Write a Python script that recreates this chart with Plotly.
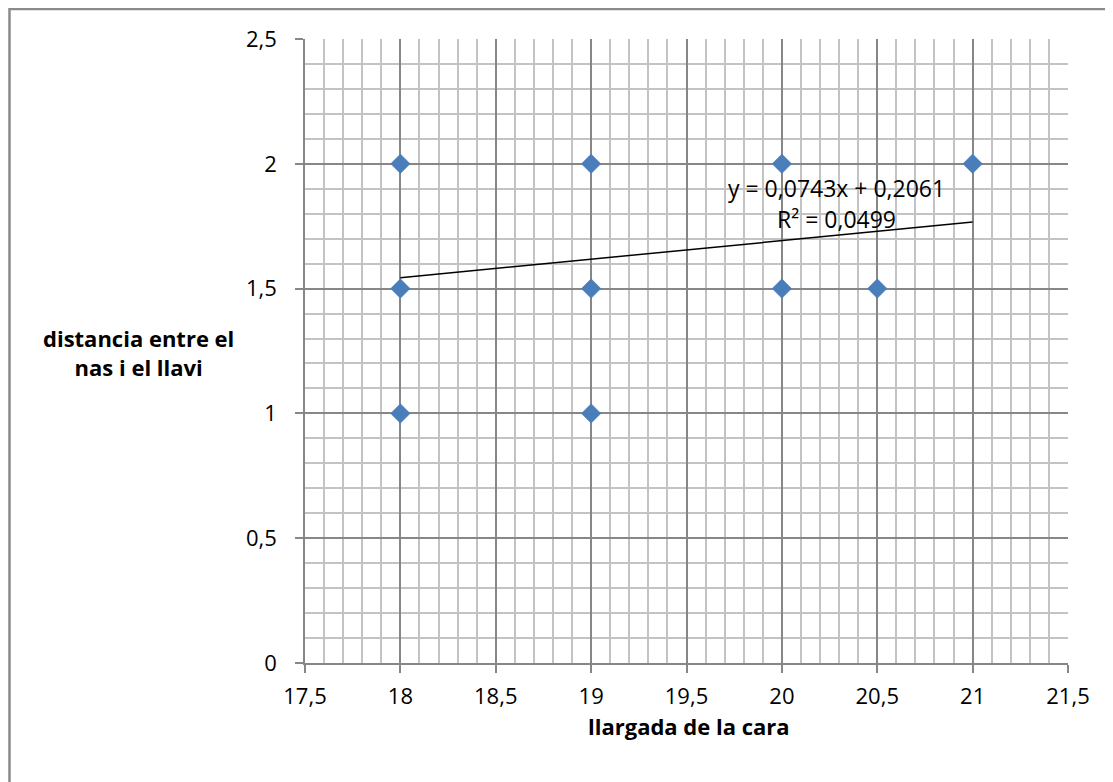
import plotly.graph_objects as go

# ---- data ----
x_vals = [18, 18, 18, 19, 19, 19, 20, 20, 20.5, 21]
y_vals = [2, 1.5, 1, 2, 1.5, 1, 2, 1.5, 1.5, 2]
trend_slope = 0.0743
trend_intercept = 0.2061
r_squared = 0.0499
x_tickvals = [17.5, 18, 18.5, 19, 19.5, 20, 20.5, 21, 21.5]
x_ticktext = ["17,5", "18", "18,5", "19", "19,5", "20", "20,5", "21", "21,5"]
y_tickvals = [0, 0.5, 1, 1.5, 2, 2.5]
y_ticktext = ["0", "0,5", "1", "1,5", "2", "2,5"]
x_title = "llargada de la cara"
y_title = "distancia entre el<br>nas i el llavi"

FONT = "Open Sans"
MAJOR = "#878787"
MINOR = "#c3c3c3"

fig = go.Figure()

fig.add_trace(go.Scatter(
    x=x_vals, y=y_vals, mode="markers",
    marker=dict(symbol="diamond", size=15, color="#4a7ebb",
                line=dict(width=0.5, color="#4a7ebb")),
    showlegend=False, hoverinfo="x+y",
))

tx = [min(x_vals), max(x_vals)]
ty = [trend_slope * v + trend_intercept for v in tx]
fig.add_trace(go.Scatter(
    x=tx, y=ty, mode="lines",
    line=dict(color="black", width=1.5),
    showlegend=False, hoverinfo="skip",
))

def fmt(v):
    return f"{v:.4f}".replace(".", ",")

fig.add_annotation(x=20.284, y=1.905, xref="x", yref="y",
                   xanchor="center", yanchor="middle",
                   text=f"y = {fmt(trend_slope)}x + {fmt(trend_intercept)}",
                   showarrow=False, font=dict(family=FONT, size=23, color="black"))
fig.add_annotation(x=20.284, y=1.779, xref="x", yref="y",
                   xanchor="center", yanchor="middle",
                   text=f"R² = {fmt(r_squared)}",
                   showarrow=False, font=dict(family=FONT, size=23, color="black"))

fig.add_annotation(x=0.503, y=-0.101, xref="paper", yref="paper",
                   xanchor="center", yanchor="middle",
                   text=f"<b>{x_title}</b>", showarrow=False,
                   font=dict(family=FONT, size=22, color="black"))
fig.add_annotation(x=-0.2176, y=0.497, xref="paper", yref="paper",
                   xanchor="center", yanchor="middle",
                   text=f"<b>{y_title}</b>", showarrow=False, align="center",
                   font=dict(family=FONT, size=22, color="black"))

# outer chart border
fig.add_shape(type="rect", xref="paper", yref="paper",
              x0=-0.3873, y0=-0.25, x1=1.08, y1=1.048,
              line=dict(color="#8a8a8a", width=2.5), fillcolor="rgba(0,0,0,0)",
              layer="below")

fig.update_layout(
    width=1113, height=782,
    margin=dict(l=297, r=53, t=31, b=127),
    paper_bgcolor="white", plot_bgcolor="white",
    font=dict(family=FONT, size=23, color="black"),
    showlegend=False,
)

fig.update_xaxes(
    range=[17.5, 21.5], tickvals=x_tickvals, ticktext=x_ticktext,
    showgrid=True, gridcolor=MAJOR, gridwidth=1.5,
    showline=True, linecolor=MAJOR, linewidth=1.5, mirror=False,
    ticks="outside", ticklen=8, tickcolor=MAJOR, tickwidth=1.5,
    ticklabelstandoff=5,
    zeroline=False,
    minor=dict(dtick=0.1, tick0=17.5, showgrid=True, gridcolor=MINOR, gridwidth=1.5, ticks=""),
    tickfont=dict(family=FONT, size=22),
)
fig.update_yaxes(
    range=[0, 2.5], tickvals=y_tickvals, ticktext=y_ticktext,
    showgrid=True, gridcolor=MAJOR, gridwidth=1.5,
    showline=True, linecolor=MAJOR, linewidth=1.5,
    ticks="outside", ticklen=8, tickcolor=MAJOR, tickwidth=1.5,
    ticklabelstandoff=14,
    zeroline=False,
    minor=dict(dtick=0.1, tick0=0, showgrid=True, gridcolor=MINOR, gridwidth=1.5, ticks=""),
    tickfont=dict(family=FONT, size=22),
)

fig.write_html("out.html")
